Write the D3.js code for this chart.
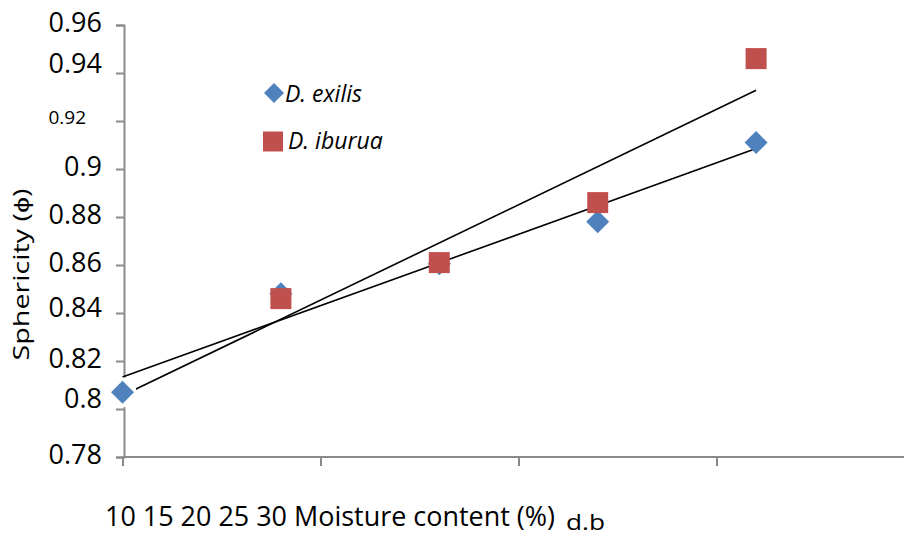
<!DOCTYPE html>
<html>
<head>
<meta charset="utf-8">
<script src="https://cdn.jsdelivr.net/npm/d3@7"></script>
<style>
  html, body { margin: 0; padding: 0; background: #fff; }
  svg { display: block; font-family: "Open Sans", "Liberation Sans", sans-serif; }
</style>
</head>
<body>
<svg id="chart" width="904" height="536"></svg>
<script>
// ---- data ----
const moisture = [10, 15, 20, 25, 30];
const exilis = [0.807, 0.848, 0.8605, 0.878, 0.911];
const iburua = [0.807, 0.846, 0.861, 0.886, 0.946];
const seriesNames = ["D. exilis", "D. iburua"];
const yTicks = [0.78, 0.80, 0.82, 0.84, 0.86, 0.88, 0.90, 0.92, 0.94, 0.96];
const yTickLabels = ["0.78", "0.8", "0.82", "0.84", "0.86", "0.88", "0.9", "0.92", "0.94", "0.96"];
const xTicks = [10, 16.25, 22.5, 28.75, 35];
const xTitle = "Moisture content (%)";
const xUnit = "d.b";
const yTitle = "Sphericity (\u03D5)";

// ---- layout ----
const svg = d3.select("#chart");
const x = d3.scaleLinear().domain([10, 35]).range([122.5, 122.5 + 25 * 31.68]);
const y = d3.scaleLinear().domain([0.78, 0.96]).range([457, 25]);
const axisColor = "#8a8a8a";
const blue = "#4F81BD", red = "#C0504D";

// x axis
const xAxis = svg.append("g").attr("transform", `translate(0,${y(0.78)})`)
  .call(d3.axisBottom(x).tickValues(xTicks).tickSize(9).tickFormat(""));
xAxis.select(".domain").attr("stroke", axisColor).attr("stroke-width", 2).attr("d", `M${x(10)},0H904`);
xAxis.selectAll(".tick line").attr("stroke", axisColor).attr("stroke-width", 2);

// y axis
const labelStyle = {
  "0.96": { dy: -3, size: 27, dx: 0 },
  "0.94": { dy: -10, size: 27, dx: 0 },
  "0.92": { dy: -4, size: 19, dx: -16 },
  "0.84": { dy: -6, size: 27, dx: 0 },
  "0.8": { dy: -11, size: 27, dx: 0 }
};
const yAxis = svg.append("g").attr("transform", `translate(${x(10) + 1.5},0)`)
  .call(d3.axisLeft(y).tickValues(yTicks).tickSize(8).tickPadding(14)
    .tickFormat((d, i) => yTickLabels[i]));
yAxis.select(".domain").attr("stroke", axisColor).attr("stroke-width", 2);
yAxis.selectAll(".tick line").attr("stroke", axisColor).attr("stroke-width", 2);
yAxis.selectAll(".tick text")
  .attr("fill", "#000")
  .attr("font-family", "'Open Sans', sans-serif")
  .each(function (d, i) {
    const lab = yTickLabels[i];
    const st = labelStyle[lab] || { dy: -3, size: 27, dx: 0 };
    d3.select(this)
      .attr("font-size", st.size)
      .attr("x", -22 + st.dx)
      .attr("y", st.dy)
      .attr("dy", "0.35em");
  });

// axis titles
svg.append("text")
  .attr("transform", `translate(29,${274.5}) rotate(-90)`)
  .attr("text-anchor", "middle")
  .attr("font-size", 21)
  .attr("textLength", 172)
  .attr("lengthAdjust", "spacingAndGlyphs")
  .attr("fill", "#000")
  .text(yTitle);

svg.append("text")
  .attr("x", 105).attr("y", 526)
  .attr("font-size", 27)
  .attr("textLength", 450)
  .attr("lengthAdjust", "spacingAndGlyphs")
  .attr("fill", "#000")
  .text(moisture.join(" ") + " " + xTitle);
svg.append("text")
  .attr("x", 566).attr("y", 530)
  .attr("font-size", 22)
  .attr("textLength", 39)
  .attr("lengthAdjust", "spacingAndGlyphs")
  .attr("fill", "#000")
  .text(xUnit);

// trend lines (least squares)
function fit(xs, ys) {
  const mx = d3.mean(xs), my = d3.mean(ys);
  const sxy = d3.sum(xs, (v, i) => (v - mx) * (ys[i] - my));
  const sxx = d3.sum(xs, v => (v - mx) * (v - mx));
  const b = sxy / sxx;
  return v => my + b * (v - mx);
}
const xMin = d3.min(moisture), xMax = d3.max(moisture);
[exilis, iburua].forEach(s => {
  const f = fit(moisture, s);
  svg.append("line")
    .attr("x1", x(xMin)).attr("y1", y(f(xMin)))
    .attr("x2", x(xMax)).attr("y2", y(f(xMax)))
    .attr("stroke", "#000").attr("stroke-width", 1.6);
});

// markers
const diamondPath = d3.symbol(d3.symbolSquare, 265)();
const squarePath = d3.symbol(d3.symbolSquare, 441)();

svg.append("g").selectAll("path").data(moisture).join("path")
  .attr("d", diamondPath)
  .attr("transform", (d, i) => `translate(${x(d)},${y(exilis[i])}) rotate(45)`)
  .attr("fill", blue);

svg.append("g").selectAll("path").data(moisture).join("path")
  .attr("d", squarePath)
  .attr("transform", (d, i) => `translate(${x(d)},${y(iburua[i])})`)
  .attr("fill", red);

// first point sits on a white backing in the reference (hides the overlapped square)
svg.append("rect")
  .attr("x", x(moisture[0]) - 12.5).attr("y", y(exilis[0]) - 14.5)
  .attr("width", 26).attr("height", 29.5)
  .attr("fill", "#fff");
svg.append("path")
  .attr("d", diamondPath)
  .attr("transform", `translate(${x(moisture[0])},${y(exilis[0])}) rotate(45)`)
  .attr("fill", blue);

// legend
const legend = svg.append("g");
legend.append("path")
  .attr("d", d3.symbol(d3.symbolSquare, 200)())
  .attr("transform", "translate(274,93) rotate(45)")
  .attr("fill", blue);
legend.append("text")
  .attr("x", 285).attr("y", 102)
  .attr("font-size", 23).attr("font-style", "italic").attr("fill", "#000")
  .text(seriesNames[0]);
legend.append("path")
  .attr("d", d3.symbol(d3.symbolSquare, 400)())
  .attr("transform", "translate(273,141.5)")
  .attr("fill", red);
legend.append("text")
  .attr("x", 288).attr("y", 149)
  .attr("font-size", 23).attr("font-style", "italic").attr("fill", "#000")
  .text(seriesNames[1]);
</script>
</body>
</html>
